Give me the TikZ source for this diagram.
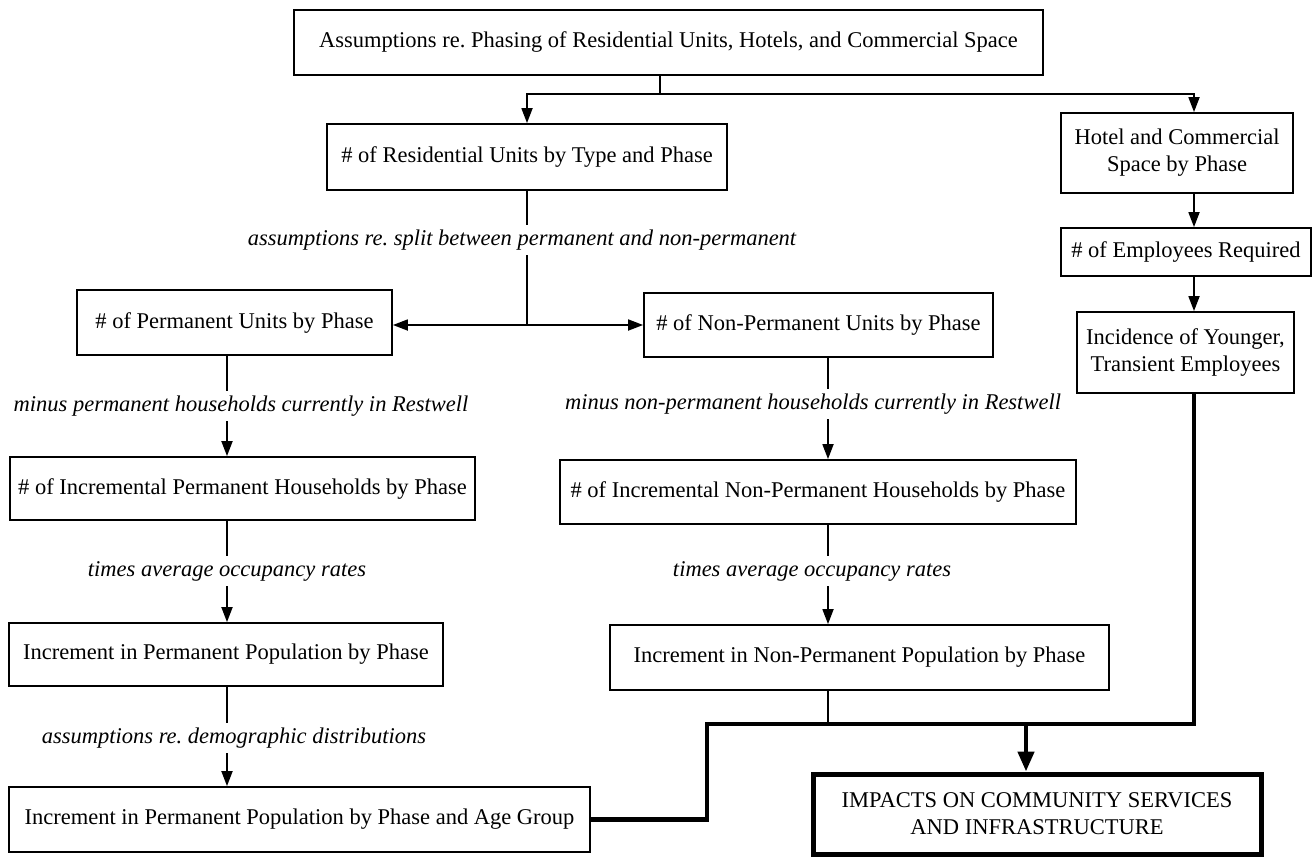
\documentclass[tikz,border=0pt]{standalone}
\usepackage{fontspec}
\setmainfont{Liberation Serif}
\usetikzlibrary{arrows.meta}
\frenchspacing

\begin{document}
\begin{tikzpicture}[x=1pt, y=-1pt]
      \tikzstyle{box} = [draw, line width=1.8pt, align=center, inner sep=0pt, font=\fontsize{22.5}{27}\selectfont]
      \tikzstyle{note} = [fill=white, inner xsep=2pt, inner ysep=5pt, font=\fontsize{22.5}{27}\selectfont\itshape]
      \tikzstyle{link} = [line width=1.8pt]
      \tikzstyle{edge} = [link, -{Triangle[length=15pt, width=11pt]}]
      \tikzstyle{heavy} = [line width=4.5pt]

      \useasboundingbox (0,0) rectangle (1313,857);

      \coordinate (lcol) at (227,0);
      \coordinate (mcol) at (828,0);
      \coordinate (rcol) at (1194,0);
      \coordinate (fork) at (660,94);
      \coordinate (split) at (527,325);
      \coordinate (jog) at (707,724);
      \coordinate (drop) at (1026,724);

      \node[box, minimum width=749, minimum height=65] (top) at (668.5,42.5) {Assumptions re. Phasing of Residential Units, Hotels, and Commercial Space};
      \node[box, minimum width=400, minimum height=66] (res) at (527,157) {\# of Residential Units by Type and Phase};
      \node[box, minimum width=232, minimum height=80] (hotel) at (1177,153) {Hotel and Commercial\\Space by Phase};
      \node[box, minimum width=250, minimum height=48] (emp) at (1186,252) {\# of Employees Required};
      \node[box, minimum width=217, minimum height=81] (young) at (1185.5,352.5) {Incidence of Younger,\\Transient Employees};
      \node[box, minimum width=315, minimum height=65] (perm) at (234.5,322.5) {\# of Permanent Units by Phase};
      \node[box, minimum width=349, minimum height=64] (nonperm) at (818.5,325) {\# of Non-Permanent Units by Phase};
      \node[box, minimum width=465, minimum height=63] (permhh) at (242.5,488.5) {\# of Incremental Permanent Households by Phase};
      \node[box, minimum width=516, minimum height=64] (nonpermhh) at (818,492) {\# of Incremental Non-Permanent Households by Phase};
      \node[box, minimum width=434, minimum height=63] (permpop) at (226,654.5) {Increment in Permanent Population by Phase};
      \node[box, minimum width=499, minimum height=65] (nonpermpop) at (859.5,657.5) {Increment in Non-Permanent Population by Phase};
      \node[box, minimum width=581, minimum height=65] (agegrp) at (299.5,819.5) {Increment in Permanent Population by Phase and Age Group};
      \node[box, line width=5pt, minimum width=448, minimum height=80] (impacts) at (1037,814) {IMPACTS ON COMMUNITY SERVICES\\AND INFRASTRUCTURE};

      \node[note] (splitnote) at (522,240) {assumptions re. split between permanent and non-permanent};
      \node[note] (permhhnote) at (241,406) {minus permanent households currently in Restwell};
      \node[note] (nonpermhhnote) at (813,404) {minus non-permanent households currently in Restwell};
      \node[note] (permoccnote) at (227,571) {times average occupancy rates};
      \node[note] (nonpermoccnote) at (812,571) {times average occupancy rates};
      \node[note] (demonote) at (234,738) {assumptions re. demographic distributions};

      \draw[link] (top.south -| fork) -- (fork);
      \draw[edge] (fork) -| (res.north);
      \draw[edge] (fork) -| (hotel.north -| rcol);
      \draw[edge] (hotel.south -| rcol) -- (emp.north -| rcol);
      \draw[edge] (emp.south -| rcol) -- (young.north -| rcol);

      \draw[link] (res.south) -- (splitnote.north -| split);
      \draw[link] (splitnote.south -| split) -- (split);
      \draw[edge] (split) -- (split -| perm.east);
      \draw[edge] (split) -- (split -| nonperm.west);

      \draw[link] (perm.south -| lcol) -- (permhhnote.north -| lcol);
      \draw[edge] (permhhnote.south -| lcol) -- (permhh.north -| lcol);
      \draw[link] (permhh.south -| lcol) -- (permoccnote.north -| lcol);
      \draw[edge] (permoccnote.south -| lcol) -- (permpop.north -| lcol);
      \draw[link] (permpop.south -| lcol) -- (demonote.north -| lcol);
      \draw[edge] (demonote.south -| lcol) -- (agegrp.north -| lcol);

      \draw[link] (nonperm.south -| mcol) -- (nonpermhhnote.north -| mcol);
      \draw[edge] (nonpermhhnote.south -| mcol) -- (nonpermhh.north -| mcol);
      \draw[link] (nonpermhh.south -| mcol) -- (nonpermoccnote.north -| mcol);
      \draw[edge] (nonpermoccnote.south -| mcol) -- (nonpermpop.north -| mcol);
      \draw[link] (nonpermpop.south -| mcol) -- (mcol |- jog);

      \draw[heavy] (young.south -| rcol) |- (jog) |- (agegrp.east);
      \draw[heavy, -{Triangle[length=20pt, width=16pt]}] (drop) -- (drop |- impacts.north);
\end{tikzpicture}
\end{document}
